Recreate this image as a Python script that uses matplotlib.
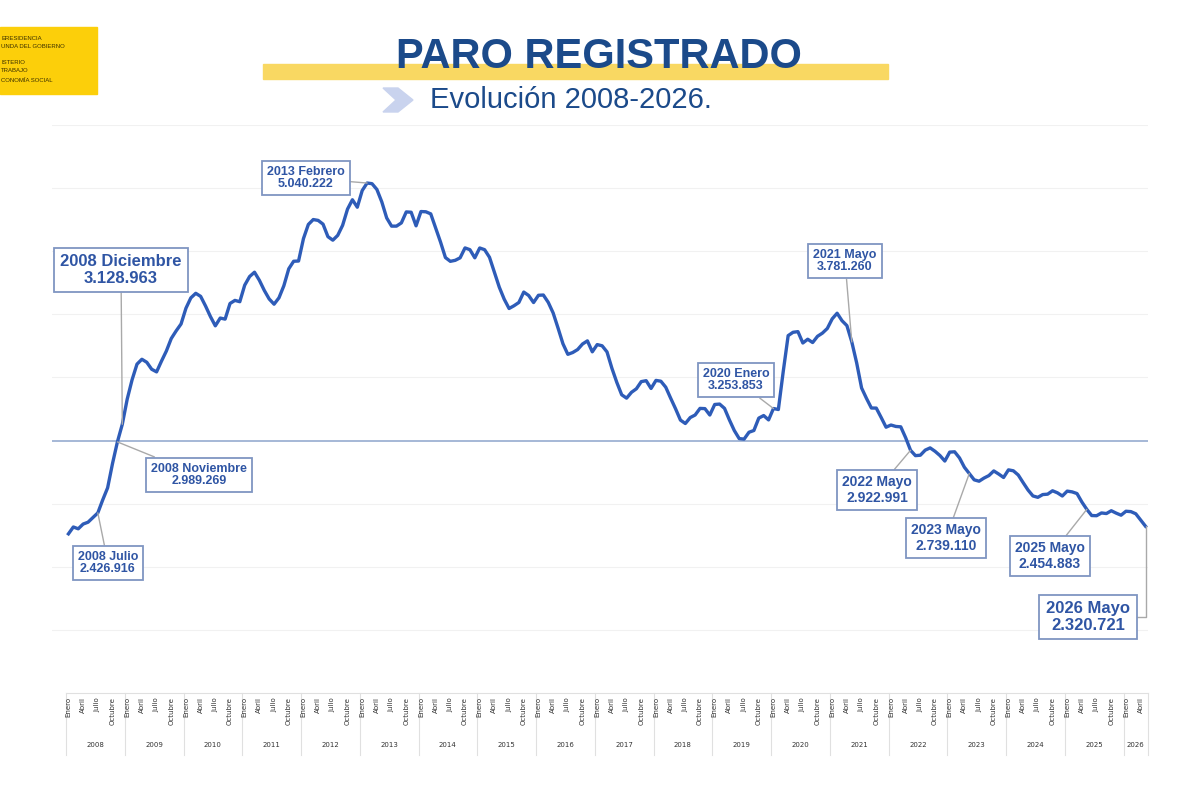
import numpy as np
import matplotlib
matplotlib.use("Agg")
import matplotlib.pyplot as plt
import matplotlib.transforms as mtransforms
from matplotlib.patches import Rectangle, Polygon

# paro registrado, miles de personas, enero 2008 - mayo 2026
paro_miles = [
    # 2008
    2261.0, 2315.3, 2300.9, 2338.5, 2353.1, 2390.4, 2426.916, 2530.0, 2625.4, 2818.0, 2989.269, 3128.963,
    # 2009
    3327.8, 3481.9, 3605.4, 3644.0, 3620.1, 3564.9, 3544.1, 3629.1, 3709.4, 3808.4, 3869.0, 3923.6,
    # 2010
    4048.5, 4130.4, 4166.6, 4142.4, 4066.2, 3982.4, 3908.9, 3970.5, 3962.0, 4086.0, 4110.3, 4100.1,
    # 2011
    4231.0, 4299.3, 4333.7, 4269.4, 4189.6, 4121.8, 4080.3, 4130.9, 4226.7, 4360.9, 4420.5, 4422.4,
    # 2012
    4599.8, 4712.1, 4750.9, 4744.2, 4714.4, 4615.3, 4587.5, 4625.6, 4705.3, 4833.5, 4907.8, 4848.7,
    # 2013
    4980.8, 5040.222, 5035.2, 4989.2, 4890.9, 4763.7, 4698.8, 4698.8, 4724.4, 4811.4, 4808.9, 4701.3,
    # 2014
    4814.4, 4812.5, 4795.9, 4684.3, 4572.4, 4449.7, 4419.9, 4427.9, 4447.7, 4526.2, 4512.2, 4447.7,
    # 2015
    4525.7, 4512.2, 4451.9, 4333.0, 4215.0, 4120.3, 4046.3, 4067.9, 4094.0, 4176.4, 4149.3, 4093.5,
    # 2016
    4150.9, 4153.0, 4094.8, 4011.0, 3891.4, 3767.1, 3683.1, 3697.5, 3721.0, 3764.9, 3789.8, 3703.0,
    # 2017
    3760.3, 3750.9, 3702.3, 3573.0, 3461.1, 3362.8, 3335.9, 3382.3, 3410.2, 3467.0, 3474.3, 3412.8,
    # 2018
    3476.5, 3470.2, 3422.6, 3335.9, 3252.1, 3162.2, 3135.0, 3182.1, 3202.5, 3254.8, 3252.9, 3202.3,
    # 2019
    3285.8, 3289.0, 3255.1, 3163.6, 3079.5, 3015.7, 3011.4, 3065.8, 3079.7, 3177.7, 3198.2, 3163.6,
    # 2020
    3253.853, 3246.0, 3548.3, 3831.2, 3857.8, 3862.9, 3773.0, 3802.8, 3776.5, 3826.0, 3851.3, 3888.1,
    # 2021
    3964.4, 4008.8, 3949.6, 3910.6, 3781.260, 3614.3, 3416.5, 3333.9, 3257.8, 3257.1, 3182.7, 3105.9,
    # 2022
    3123.1, 3111.7, 3108.8, 3022.5, 2922.991, 2880.6, 2883.8, 2924.2, 2941.9, 2914.9, 2881.4, 2837.7,
    # 2023
    2908.4, 2911.0, 2862.3, 2788.4, 2739.110, 2688.8, 2677.9, 2702.7, 2722.5, 2759.4, 2734.8, 2707.5,
    # 2024
    2767.9, 2760.4, 2727.0, 2666.5, 2607.9, 2561.1, 2550.2, 2572.1, 2575.3, 2602.1, 2586.0, 2560.7,
    # 2025
    2599.4, 2593.4, 2580.1, 2512.7, 2454.883, 2406.0, 2404.6, 2426.5, 2421.7, 2444.0, 2425.0, 2408.7,
    # 2026
    2440.0, 2437.0, 2420.0, 2370.0, 2320.721,
]
years = list(range(2008, 2027))
month_names = ["Enero", "Abril", "Julio", "Octubre"]
month_pos = [0, 3, 6, 9]
linea_ref = 3000000

# etiquetas: (indice mes, texto, centro caja px, tamano letra)
etiquetas = [
    (6, "2008 Julio", (108, 563), 9),
    (10, "2008 Noviembre", (199, 475), 9),
    (11, "2008 Diciembre", (121, 270), 12),
    (61, "2013 Febrero", (306, 178), 9),
    (144, "2020 Enero", (736, 380), 9),
    (160, "2021 Mayo", (845, 261), 9),
    (172, "2022 Mayo", (877, 490), 10),
    (184, "2023 Mayo", (946, 538), 10),
    (208, "2025 Mayo", (1050, 556), 10),
    (220, "2026 Mayo", (1088, 617), 12),
]

W, H = 1200, 800
azul = "#2E5CB8"
azul_txt = "#2F55A4"
titulo_azul = "#1B4A8A"

def fx(x):
    return x / W

def fy(y):
    return 1 - y / H

valores = np.array(paro_miles) * 1000
meses = np.arange(len(valores))

fig = plt.figure(figsize=(12, 8), dpi=100)
fig.patch.set_facecolor("white")
ax = fig.add_axes([fx(52), fy(693), fx(1148) - fx(52), fy(125) - fy(693)])

# 66px es donde empieza el eje de categorias
px_mes = (1148 - 66) / len(valores)
x_left = -0.5 - (66 - 52) / px_mes
ax.set_xlim(x_left, len(valores) - 0.5)
ax.set_ylim(1000000, 5500000)

for g in np.arange(1500000, 5500001, 500000):
    if g == linea_ref:
        continue
    ax.axhline(g, color="#F1F1F1", lw=0.8, zorder=0)
ax.axhline(linea_ref, color="#9EB2D3", lw=1.3, zorder=1)

ax.plot(meses, valores, color=azul, lw=2.4, solid_joinstyle="round", zorder=3)

for s in ax.spines.values():
    s.set_visible(False)
ax.set_xticks([])
ax.set_yticks([])

# tabla de categorias bajo el eje
tr = mtransforms.blended_transform_factory(ax.transData, ax.transAxes)
h_ax = 693 - 125
y_top = 0
y_bot = -62 / h_ax
ax.plot([-0.5, len(valores) - 0.5], [y_top, y_top], transform=tr, color="#E0E0E0",
        lw=0.8, clip_on=False)
for i, yr in enumerate(years):
    x0 = i * 12 - 0.5
    ax.plot([x0, x0], [y_top, y_bot], transform=tr, color="#E0E0E0", lw=0.8, clip_on=False)
    n_meses = min(12, len(valores) - i * 12)
    for name, p in zip(month_names, month_pos):
        if p < n_meses:
            ax.text(i * 12 + p, -4 / h_ax, name, transform=tr, rotation=90, ha="center",
                    va="top", fontsize=5, color="#333333")
    ax.text(i * 12 + (n_meses - 1) / 2, -52 / h_ax, str(yr), transform=tr, ha="center",
            va="center", fontsize=5, color="#333333")
ax.plot([len(valores) - 0.5] * 2, [y_top, y_bot], transform=tr, color="#E0E0E0", lw=0.8,
        clip_on=False)

# cajas de texto
for idx, nombre, (bx, by), fs in etiquetas:
    v = valores[idx]
    txt = nombre + "\n" + f"{int(round(v)):,}".replace(",", ".")
    if idx == 220:
        cs = "angle,angleA=0,angleB=90,rad=0"
    else:
        cs = "arc3"
    ax.annotate(txt, xy=(idx, v), xytext=(bx, H - by), textcoords="figure pixels",
                ha="center", va="center", fontsize=fs, fontweight="bold", color=azul_txt,
                family="Liberation Sans", linespacing=1.1,
                bbox=dict(boxstyle="square,pad=0.4", fc="white", ec="#7F95C2", lw=1.3),
                arrowprops=dict(arrowstyle="-", color="#A9A9A9", lw=1.0, connectionstyle=cs,
                                shrinkA=0, shrinkB=0),
                zorder=5)

# cabecera
fig.patches.append(Rectangle((fx(263), fy(79)), fx(888) - fx(263), fy(64) - fy(79),
                             transform=fig.transFigure, color="#F9D862", zorder=0))
fig.text(fx(599), fy(57), "PARO REGISTRADO", ha="center", va="center", fontsize=30,
         fontweight="bold", color=titulo_azul, family="Liberation Sans")
chev = [(383, 88), (398, 88), (413, 100), (398, 112), (383, 112), (396, 100)]
fig.patches.append(Polygon([(fx(a), fy(b)) for a, b in chev], closed=True,
                           transform=fig.transFigure, color="#C9D3EE"))
fig.text(fx(430), fy(100), "Evolución 2008-2026.", ha="left", va="center", fontsize=21,
         color=titulo_azul, family="Liberation Sans")

# logo
fig.patches.append(Rectangle((0, fy(94)), fx(97), fy(27) - fy(94), transform=fig.transFigure,
                             color="#FCCF0A"))
logo_lineas = [("ERESIDENCIA", 39), ("UNDA DEL GOBIERNO", 47), ("ISTERIO", 63),
               ("TRABAJO", 71), ("CONOMÍA SOCIAL", 80)]
for t, yy in logo_lineas:
    fig.text(fx(1), fy(yy), t, ha="left", va="center", fontsize=4.3, color="#3B3000",
             family="Liberation Sans")

fig.savefig("out.png", dpi=100, facecolor="white")
